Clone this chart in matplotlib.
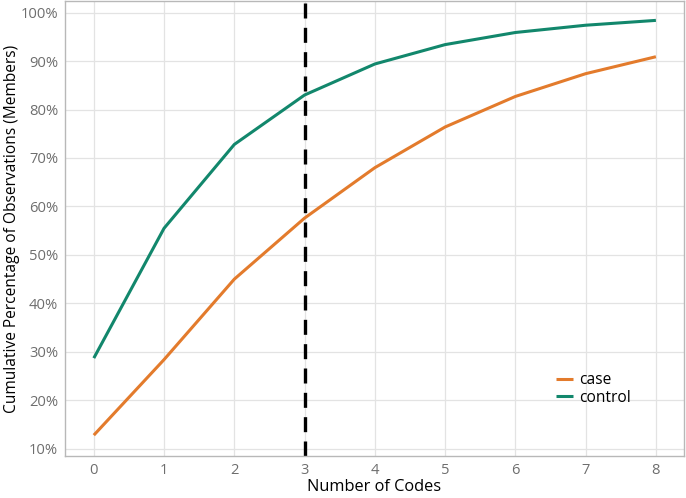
import matplotlib.pyplot as plt
import matplotlib.ticker as mticker

codes = [0, 1, 2, 3, 4, 5, 6, 7, 8]
case_pct = [12.8, 28.4, 45.0, 57.6, 68.0, 76.4, 82.7, 87.4, 90.9]
control_pct = [28.7, 55.5, 72.8, 83.0, 89.4, 93.4, 95.9, 97.4, 98.4]
cutoff = 3

plt.rcParams['font.family'] = ['Open Sans', 'DejaVu Sans']

fig = plt.figure(figsize=(6.86, 4.98), dpi=100)
ax = fig.add_axes([65 / 686, 42 / 498, 619 / 686, 455 / 498])

ax.plot(codes, case_pct, color='#E37B2C', lw=2.2, label='case', solid_capstyle='butt')
ax.plot(codes, control_pct, color='#12876C', lw=2.2, label='control', solid_capstyle='butt')
ax.axvline(cutoff, color='black', lw=2.4, dashes=(4.5, 2.8))

ax.set_xlim(-0.41, 8.4)
ax.set_ylim(8.5, 102.4)
ax.set_xticks(codes)
ax.set_yticks(range(10, 101, 10))
ax.yaxis.set_major_formatter(mticker.FuncFormatter(lambda v, p: f'{v:.0f}%'))

ax.grid(True, color='#E3E3E3', lw=0.9)
ax.set_axisbelow(True)
for s in ax.spines.values():
    s.set_color('#B8B8B8')
    s.set_linewidth(1.0)
ax.tick_params(length=0, pad=5, labelsize=10.6, labelcolor='#6E6E6E')

ax.set_xlabel('Number of Codes', fontsize=11.8, labelpad=1)
ax.set_ylabel('Cumulative Percentage of Observations (Members)', fontsize=11.2, labelpad=0.5)

ax.legend(loc='lower left', bbox_to_anchor=(0.77, 0.08), frameon=False,
          fontsize=11.2, handlelength=1.1, handletextpad=0.4, labelspacing=0.1)

fig.savefig('out.png', dpi=100)
